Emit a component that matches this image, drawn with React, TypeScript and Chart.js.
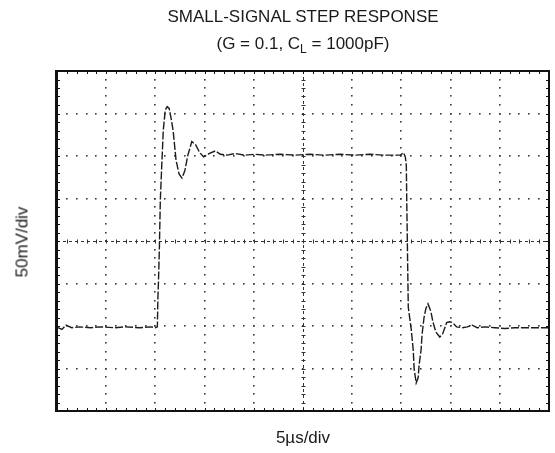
import React, { useEffect, useRef } from "react";
import { Chart, registerables } from "chart.js";

Chart.register(...registerables);

// Waveform: time in µs (5 µs/div), voltage in mV (50 mV/div, 0 = centre line)
const timeUs = [
  0.1, 0.5, 0.9, 1.5, 2.3, 3.4, 4.4, 5.9, 6.9, 8.4, 9.5, 10.0, 10.2,
  10.25, 10.3, 10.4, 10.5, 10.65, 10.8, 11.0, 11.2, 11.4, 11.6, 11.8, 12.1, 12.4, 12.7, 13.0,
  13.3, 13.7, 14.1, 14.5, 14.9, 15.5, 16.1, 16.6, 17.3, 18.1, 19.1, 20.1, 21.1, 22.7, 24.2,
  25.7, 27.2, 28.8, 30.3, 31.8, 33.3, 34.9, 35.2, 35.4, 35.5, 35.55, 35.6, 35.7, 36.0, 36.2,
  36.3, 36.5, 36.7, 36.8, 37.0, 37.1, 37.3, 37.5, 37.7, 38.0, 38.2, 38.5, 38.9, 39.2, 39.6,
  39.9, 40.2, 40.6, 41.2, 41.7, 42.2, 42.7, 43.5, 44.5, 45.5, 46.5, 47.6, 48.6, 49.9,
];
const voltageMv = [
  -102, -104, -99, -102, -101, -102, -101, -102, -101, -102, -101, -102, -101,
  -69, -52, -11, 48, 90, 130, 154, 158, 156, 144, 130, 95, 79, 74, 83,
  101, 117, 113, 104, 99, 103, 106, 102, 101, 103, 101, 102, 101, 102, 101,
  102, 101, 102, 101, 102, 101, 101, 104, 99, 89, 42, 2, -78, -104, -128,
  -151, -167, -161, -146, -128, -110, -90, -79, -74, -83, -95, -107, -113, -109, -96,
  -95, -96, -101, -102, -101, -99, -102, -101, -102, -103, -102, -102, -102, -102,
];

const timeRange = [0, 50]; // 10 divisions of 5 µs
const voltRange = [-200, 200]; // 8 divisions of 50 mV
const timePerDiv = 5;
const voltPerDiv = 50;

const titleText = "SMALL-SIGNAL STEP RESPONSE";
const xLabel = "5µs/div";
const yLabel = "50mV/div";

const graticule = {
  id: "graticule",
  beforeDatasetsDraw(chart: any) {
    const { ctx, chartArea: a, scales } = chart;
    const x = scales.x;
    const y = scales.y;
    ctx.save();
    ctx.fillStyle = "#3a3a3a";
    const xSub = timePerDiv / 5;
    const ySub = voltPerDiv / 5;
    // dotted vertical division lines
    for (let t = timeRange[0] + timePerDiv; t < timeRange[1]; t += timePerDiv) {
      if (Math.abs(t - 25) < 1e-6) continue;
      const px = Math.round(x.getPixelForValue(t));
      for (let v = voltRange[0] + ySub; v < voltRange[1]; v += ySub) {
        const py = Math.round(y.getPixelForValue(v));
        ctx.fillRect(px - 1, py - 1, 1.6, 1.6);
      }
    }
    // dotted horizontal division lines
    for (let v = voltRange[0] + voltPerDiv; v < voltRange[1]; v += voltPerDiv) {
      if (Math.abs(v) < 1e-6) continue;
      const py = Math.round(y.getPixelForValue(v));
      for (let t = timeRange[0] + xSub; t < timeRange[1]; t += xSub) {
        const px = Math.round(x.getPixelForValue(t));
        ctx.fillRect(px - 1, py - 1, 1.6, 1.6);
      }
    }
    // centre lines (dashed with sub-division ticks)
    const cx = Math.round(x.getPixelForValue(25)) + 0.5;
    const cy = Math.round(y.getPixelForValue(0)) + 0.5;
    ctx.strokeStyle = "#333";
    ctx.lineWidth = 1;
    ctx.setLineDash([3, 3]);
    ctx.beginPath();
    ctx.moveTo(a.left, cy);
    ctx.lineTo(a.right, cy);
    ctx.moveTo(cx, a.top);
    ctx.lineTo(cx, a.bottom);
    ctx.stroke();
    ctx.setLineDash([]);
    ctx.beginPath();
    for (let t = timeRange[0] + xSub; t < timeRange[1]; t += xSub) {
      const px = Math.round(x.getPixelForValue(t)) + 0.5;
      ctx.moveTo(px, cy - 2);
      ctx.lineTo(px, cy + 2);
    }
    for (let v = voltRange[0] + ySub; v < voltRange[1]; v += ySub) {
      const py = Math.round(y.getPixelForValue(v)) + 0.5;
      ctx.moveTo(cx - 2, py);
      ctx.lineTo(cx + 2, py);
    }
    ctx.stroke();
    ctx.restore();
  },
  afterDatasetsDraw(chart: any) {
    const { ctx, chartArea: a, scales } = chart;
    const x = scales.x;
    const y = scales.y;
    ctx.save();
    ctx.strokeStyle = "#111";
    ctx.lineWidth = 1;
    const xSub = timePerDiv / 5;
    const ySub = voltPerDiv / 5;
    ctx.beginPath();
    for (let t = timeRange[0] + xSub; t < timeRange[1]; t += xSub) {
      const px = Math.round(x.getPixelForValue(t)) + 0.5;
      ctx.moveTo(px, a.top);
      ctx.lineTo(px, a.top + 3);
      ctx.moveTo(px, a.bottom);
      ctx.lineTo(px, a.bottom - 3);
    }
    for (let v = voltRange[0] + ySub; v < voltRange[1]; v += ySub) {
      const py = Math.round(y.getPixelForValue(v)) + 0.5;
      ctx.moveTo(a.left, py);
      ctx.lineTo(a.left + 3, py);
      ctx.moveTo(a.right, py);
      ctx.lineTo(a.right - 3, py);
    }
    ctx.stroke();
    ctx.lineWidth = 2;
    ctx.strokeRect(a.left, a.top, a.right - a.left, a.bottom - a.top);
    ctx.lineWidth = 3;
    ctx.beginPath();
    ctx.moveTo(a.left - 0.5, a.top - 1);
    ctx.lineTo(a.left - 0.5, a.bottom + 1);
    ctx.stroke();
    ctx.restore();
  },
};

const textStyle: React.CSSProperties = {
  position: "absolute",
  fontFamily: '"Liberation Sans", Arial, Helvetica, sans-serif',
  fontSize: "17px",
  lineHeight: "19px",
  height: "19px",
  color: "#1a1a1a",
  whiteSpace: "nowrap",
};

export default function App() {
  const canvasRef = useRef<HTMLCanvasElement | null>(null);

  useEffect(() => {
    if (!canvasRef.current) return;
    const points = timeUs.map((t, i) => ({ x: t, y: voltageMv[i] }));
    const chart = new Chart(canvasRef.current, {
      type: "line",
      data: {
        datasets: [
          {
            data: points,
            borderColor: "#1c1c1c",
            borderWidth: 1.4,
            borderDash: [8, 2],
            pointRadius: 0,
            tension: 0,
            fill: false,
          },
        ],
      },
      options: {
        animation: false,
        responsive: false,
        maintainAspectRatio: false,
        devicePixelRatio: 1,
        layout: { padding: { left: 57, top: 71, right: 6, bottom: 42 } },
        plugins: { legend: { display: false }, tooltip: { enabled: false }, title: { display: false } },
        scales: {
          x: { type: "linear", min: timeRange[0], max: timeRange[1], display: false },
          y: { type: "linear", min: voltRange[0], max: voltRange[1], display: false },
        },
      },
      plugins: [graticule],
    });
    return () => chart.destroy();
  }, []);

  return (
    <div style={{ position: "absolute", left: 0, top: 0, width: 555, height: 453, background: "#fff", overflow: "hidden" }}>
      <canvas ref={canvasRef} width={555} height={453} style={{ display: "block", width: 555, height: 453 }} />
      <div style={{ ...textStyle, left: 57, width: 492, top: 7, textAlign: "center" }}>{titleText}</div>
      <div style={{ ...textStyle, left: 57, width: 492, top: 34, textAlign: "center" }}>
        (G = 0.1, C<span style={{ fontSize: "12px", position: "relative", top: "4px" }}>L</span> = 1000pF)
      </div>
      <div style={{ ...textStyle, left: 57, width: 492, top: 428, textAlign: "center" }}>{xLabel}</div>
      <div
        style={{
          ...textStyle,
          left: 22,
          top: 242,
          transform: "translate(-50%, -50%) rotate(-90deg)",
        }}
      >
        {yLabel}
      </div>
    </div>
  );
}
